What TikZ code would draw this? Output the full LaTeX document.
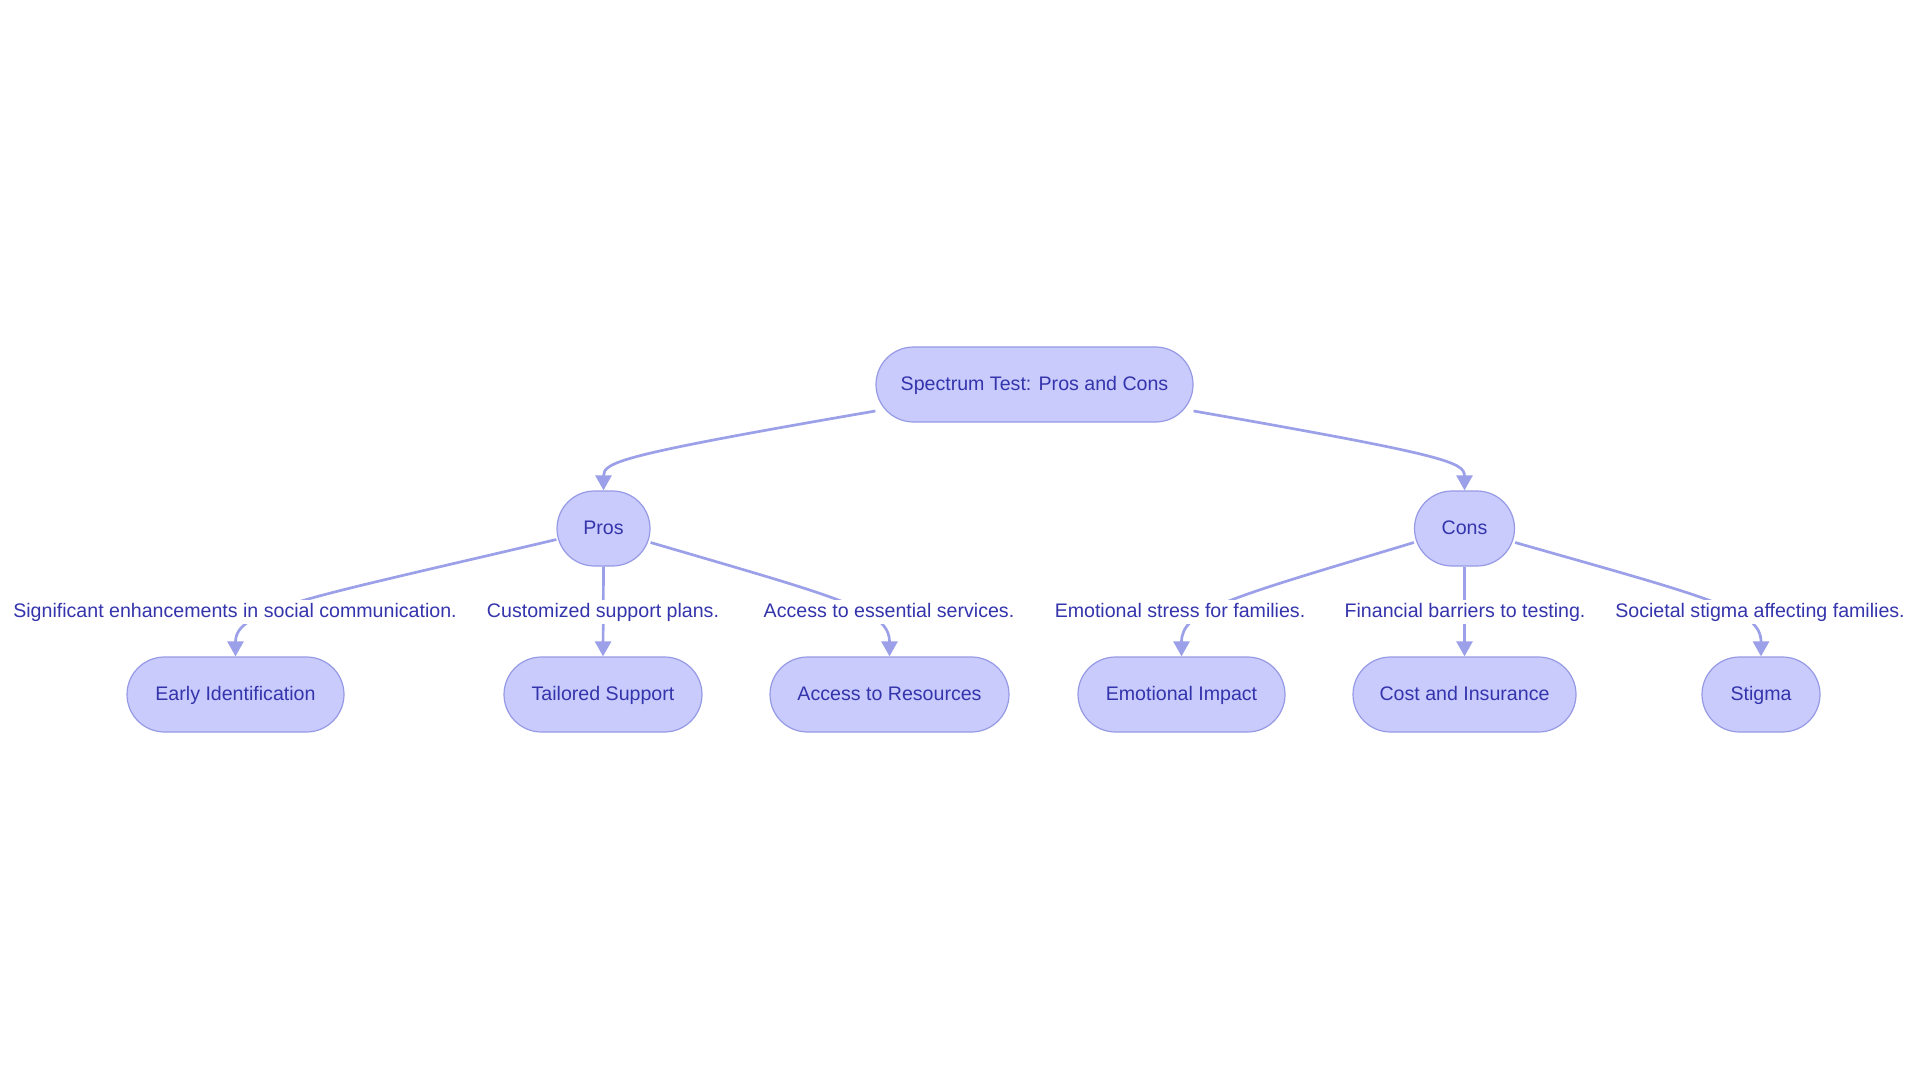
\documentclass[tikz,border=0pt]{standalone}
\usepackage{fontspec}
\setmainfont{Liberation Sans}
\usetikzlibrary{arrows.meta}
\definecolor{nodefill}{RGB}{200,203,252}
\definecolor{nodeline}{RGB}{150,154,228}
\definecolor{edgecol}{RGB}{155,160,232}
\definecolor{txtcol}{RGB}{52,52,172}
\tikzset{
  box/.style={draw=nodeline, line width=1.2pt, fill=nodefill, rounded corners=37.5pt,
    minimum height=75pt, inner xsep=0pt, text height=15.5pt, text depth=3pt,
    text=txtcol, font=\fontsize{19.6}{22}\selectfont},
  elabel/.style={fill=white, inner xsep=1pt, inner ysep=3pt, text height=14pt, text depth=4pt,
    text=txtcol, font=\fontsize{19.6}{22}\selectfont},
  conn/.style={draw=edgecol, line width=2.7pt, -{Triangle[length=15pt,width=16pt]}},
}
\begin{document}
\begin{tikzpicture}[x=1pt,y=-1pt]
\useasboundingbox (0,0) rectangle (1920,1083);
% nodes
\node[box, minimum width=317pt] (root) at (1034.5,384.5) {Spectrum Test: Pros and Cons};
\node[box, minimum width=93pt] (pros) at (603.5,528.5) {Pros};
\node[box, minimum width=100pt] (cons) at (1464.5,528.5) {Cons};
\node[box, minimum width=217pt] (early) at (235.5,694.5) {Early Identification};
\node[box, minimum width=198pt] (tail) at (603,694.5) {Tailored Support};
\node[box, minimum width=239pt] (acc) at (889.5,694.5) {Access to Resources};
\node[box, minimum width=207pt] (emo) at (1181.5,694.5) {Emotional Impact};
\node[box, minimum width=223pt] (cost) at (1464.5,694.5) {Cost and Insurance};
\node[box, minimum width=118pt] (stig) at (1761,694.5) {Stigma};
% connector anchor points
\coordinate (rootL) at ([yshift=-26.5pt]root.west);
\coordinate (rootR) at ([yshift=-26.5pt]root.east);
\coordinate (prosL) at ([yshift=-11pt]pros.west);
\coordinate (prosR) at ([yshift=-14pt]pros.east);
\coordinate (consL) at ([yshift=-14pt]cons.west);
\coordinate (consR) at ([yshift=-14pt]cons.east);
% edges
\draw[conn] (rootL) .. controls (620,455) and (pros.north|-0,462) .. (pros.north);
\draw[conn] (rootR) .. controls (1445,455) and (cons.north|-0,462) .. (cons.north);
\draw[conn] (prosL) .. controls (300,600) and (early.north|-0,610) .. (early.north);
\draw[conn] (pros.south) -- (tail.north);
\draw[conn] (prosR) .. controls (840,598) and (acc.north|-0,610) .. (acc.north);
\draw[conn] (consL) .. controls (1230,598) and (emo.north|-0,610) .. (emo.north);
\draw[conn] (cons.south) -- (cost.north);
\draw[conn] (consR) .. controls (1710,598) and (stig.north|-0,610) .. (stig.north);
% edge labels
\node[elabel] (l1) at (235,612) {Significant enhancements in social communication.};
\node[elabel] (l2) at (603,612) {Customized support plans.};
\node[elabel] (l3) at (889,612) {Access to essential services.};
\node[elabel] (l4) at (1180,612) {Emotional stress for families.};
\node[elabel] (l5) at (1465,612) {Financial barriers to testing.};
\node[elabel] (l6) at (1760,612) {Societal stigma affecting families.};
\end{tikzpicture}
\end{document}
